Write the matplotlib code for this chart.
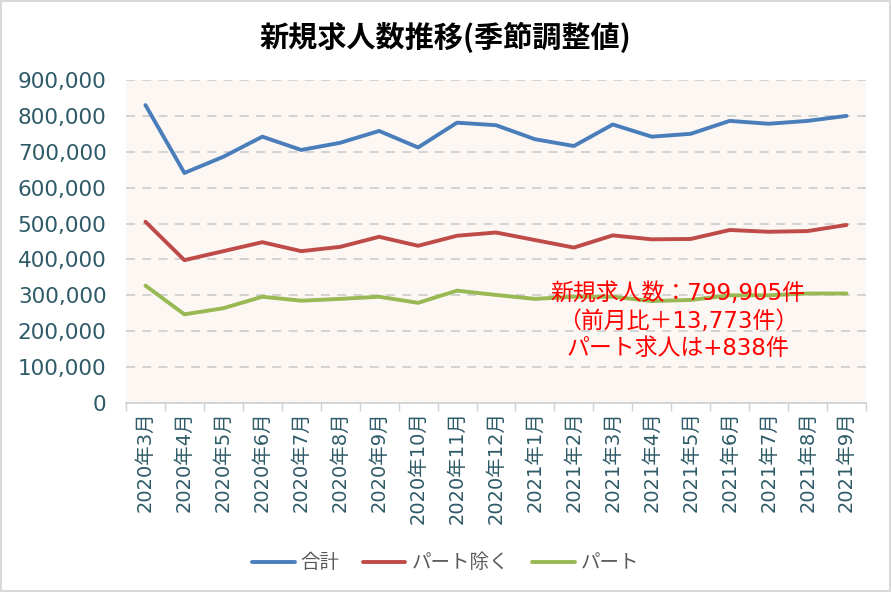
import numpy as np
import matplotlib.pyplot as plt
from matplotlib.patches import Rectangle

plt.rcParams['font.family'] = ['DejaVu Sans', 'Noto Sans CJK JP']

months = ['2020年3月', '2020年4月', '2020年5月', '2020年6月', '2020年7月', '2020年8月',
          '2020年9月', '2020年10月', '2020年11月', '2020年12月', '2021年1月', '2021年2月',
          '2021年3月', '2021年4月', '2021年5月', '2021年6月', '2021年7月', '2021年8月',
          '2021年9月']
total = [830000, 641000, 686000, 742000, 705000, 725000, 758000, 712000, 781000, 774000,
         735000, 716000, 776000, 742000, 750000, 786000, 778000, 786000, 799905]
non_part = [505000, 398000, 423000, 448000, 423000, 435000, 463000, 438000, 466000, 475000,
            454000, 433000, 467000, 456000, 457000, 482000, 477000, 479000, 496000]
part = [327000, 247000, 264000, 296000, 285000, 290000, 296000, 279000, 313000, 301000,
        290000, 296000, 296000, 284000, 287000, 300000, 300000, 305000, 305000]

cjk = ['Noto Sans CJK JP', 'DejaVu Sans']

fig = plt.figure(figsize=(8.91, 5.92), dpi=100)
fig.patches.append(Rectangle((0.001, 0.001), 0.998, 0.997, transform=fig.transFigure,
                             fill=False, edgecolor='#d9d9d9', linewidth=1.5))
ax = fig.add_axes([0.1414, 0.3193, 0.8305, 0.5456])
ax.set_facecolor('#fcf7f3')

x = np.arange(len(months))
ax.plot(x, total, color='#4a7ebb', lw=2.8, label='合計', solid_capstyle='round')
ax.plot(x, non_part, color='#be4b48', lw=2.8, label='パート除く', solid_capstyle='round')
ax.plot(x, part, color='#98b954', lw=2.8, label='パート', solid_capstyle='round')

ax.set_xlim(-0.5, len(months) - 0.5)
ax.set_ylim(0, 900000)
ax.set_yticks(np.arange(0, 900001, 100000))
ax.set_yticklabels([f'{v:,}' for v in range(0, 900001, 100000)], fontsize=15.5, color='#2e5a68')
ax.yaxis.grid(True, color='#d0d0d0', linestyle=(0, (5, 4)), linewidth=1.3)
ax.set_axisbelow(True)

ax.set_xticks(x)
ax.set_xticklabels(months, rotation=90, fontsize=14, color='#2e5a68')
ax.set_xticks(np.arange(-0.5, len(months)), minor=True)
ax.tick_params(axis='x', which='major', length=0, pad=6)
ax.tick_params(axis='x', which='minor', length=6, color='#d0d0d0', width=1)
ax.tick_params(axis='y', length=0, pad=14)
for s in ['top', 'right', 'left']:
    ax.spines[s].set_visible(False)
ax.spines['bottom'].set_color('#d0d0d0')
ax.spines['bottom'].set_linewidth(1.2)

ax.text(13.67, 228000, '新規求人数：799,905件\n（前月比＋13,773件）\nパート求人は+838件',
        color='red', fontsize=16.5, ha='center', va='center', linespacing=1.25,
        family=['DejaVu Sans', 'Noto Sans CJK JP'])

fig.text(0.5, 0.9375, '新規求人数推移(季節調整値)', ha='center', va='center',
         fontsize=21, fontweight='bold', family=cjk)

leg = fig.legend(loc='center', bbox_to_anchor=(0.5, 0.049), ncol=3, frameon=False,
                 prop={'family': cjk, 'size': 14}, handlelength=2.2, handletextpad=0.3,
                 columnspacing=1.2, labelcolor='#595959')

fig.savefig('out.png', dpi=100)
